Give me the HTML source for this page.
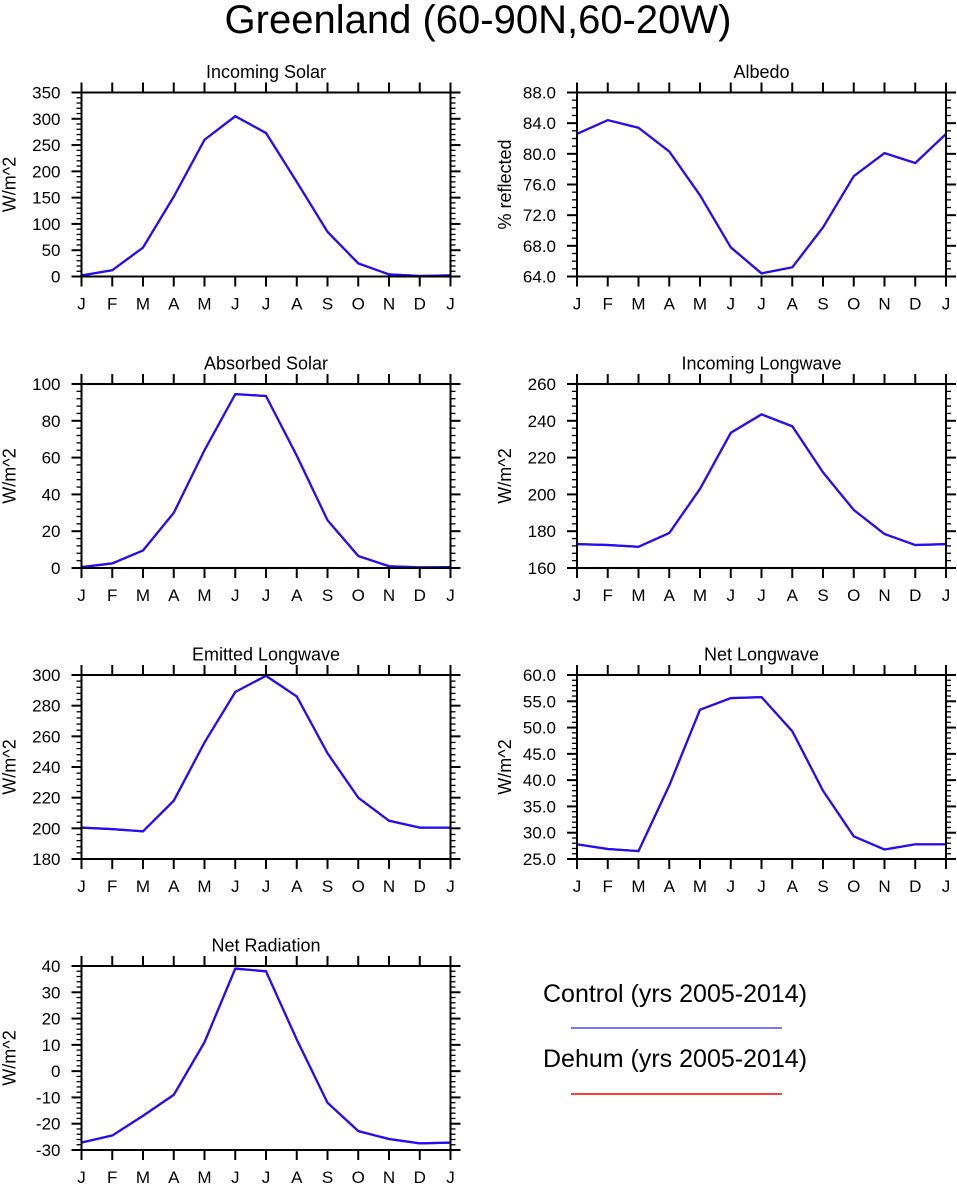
<!DOCTYPE html>
<html><head><meta charset="utf-8"><style>
body{margin:0;background:#fff;}
svg{display:block;font-family:"Liberation Sans",Arial,sans-serif;}
</style></head><body>
<svg id="c" width="957" height="1187" viewBox="0 0 957 1187" xmlns="http://www.w3.org/2000/svg">
<text x="478" y="33" font-size="40" text-anchor="middle">Greenland (60-90N,60-20W)</text>
<g>
<text x="543" y="1002" font-size="25">Control (yrs 2005-2014)</text>
<line x1="571" y1="1028" x2="782" y2="1028" stroke="#4a4aff" stroke-width="1.5"/>
<text x="543" y="1067" font-size="25">Dehum (yrs 2005-2014)</text>
<line x1="571" y1="1094" x2="782" y2="1094" stroke="#ff0000" stroke-width="1.5"/>
</g>
</svg>
<script>
const months=["J","F","M","A","M","J","J","A","S","O","N","D","J"];
const incomingSolar=[2,12,55,152,260,305,273,180,85,25,4,1,2];
const albedo=[82.6,84.4,83.4,80.3,74.6,67.8,64.4,65.2,70.4,77.1,80.1,78.8,82.6];
const absorbedSolar=[0.5,2.5,9.5,30,64,94.5,93.5,61,26,6.5,1,0.3,0.5];
const incomingLW=[173,172.5,171.5,179,203,233.5,243.5,237,212,191.5,178.5,172.5,173];
const emittedLW=[200.5,199.5,198,218,256,289,299.5,286,249,220,205,200.5,200.5];
const netLW=[27.8,26.9,26.5,39,53.4,55.6,55.8,49.3,38,29.3,26.8,27.8,27.8];
const netRad=[-27.2,-24.5,-17,-9,11,39,38,12,-12,-22.8,-25.8,-27.5,-27.2];
const panelTitles=["Incoming Solar","Albedo","Absorbed Solar","Incoming Longwave","Emitted Longwave","Net Longwave","Net Radiation"];
const yLabels=["W/m^2","% reflected","W/m^2","W/m^2","W/m^2","W/m^2","W/m^2"];
const yMin=[0,64,0,160,180,25,-30];
const yMax=[350,88,100,260,300,60,40];
const yStep=[50,4,20,20,20,5,10];
const yMinorDiv=[5,4,5,5,5,5,5];
const yDec=[0,1,0,0,0,1,0];
const series=[incomingSolar,albedo,absorbedSolar,incomingLW,emittedLW,netLW,netRad];
const svg=document.getElementById('c');
const NS='http://www.w3.org/2000/svg';
function mk(tag,attrs,parent){const e=document.createElementNS(NS,tag);for(const k in attrs)e.setAttribute(k,attrs[k]);parent.appendChild(e);return e;}
const lefts=[81.5,577];const tops=[92.5,384,675,966];const W=369,H=184;
for(let p=0;p<7;p++){
 const L=lefts[p%2],T=tops[Math.floor(p/2)];
 const g=mk('g',{},svg);
 
 
 const x=i=>L+i*W/12;
 const y=v=>T+H-(v-yMin[p])/(yMax[p]-yMin[p])*H;
 const t=mk('text',{x:L+W/2,y:T-14.5,'font-size':18,'text-anchor':'middle'},g);t.textContent=panelTitles[p];
 
 
 const yl=mk('text',{x:0,y:0,'font-size':18,'text-anchor':'middle',transform:`translate(${L-66},${T+H/2}) rotate(-90)`},g);yl.textContent=yLabels[p];
 
 
 for(let i=0;i<=12;i++){
  mk('line',{x1:x(i),x2:x(i),y1:T+H,y2:T+H+10,stroke:'#000','stroke-width':2},g);
  mk('line',{x1:x(i),x2:x(i),y1:T,y2:T-10,stroke:'#000','stroke-width':2},g);
  const lb=mk('text',{x:x(i),y:T+H+33,'font-size':17,'text-anchor':'middle'},g);lb.textContent=months[i];
  
  
 }
 const minor=yStep[p]/yMinorDiv[p];
 for(let v=yMin[p];v<=yMax[p]+1e-9;v+=minor){
  const yy=y(v);
  mk('line',{x1:L-5,x2:L,y1:yy,y2:yy,stroke:'#000','stroke-width':1.3},g);
  mk('line',{x1:L+W,x2:L+W+5,y1:yy,y2:yy,stroke:'#000','stroke-width':1.3},g);
 }
 for(let v=yMin[p];v<=yMax[p]+1e-9;v+=yStep[p]){
  const yy=y(v);
  mk('line',{x1:L-10,x2:L,y1:yy,y2:yy,stroke:'#000','stroke-width':2},g);
  mk('line',{x1:L+W,x2:L+W+10,y1:yy,y2:yy,stroke:'#000','stroke-width':2},g);
  const lb=mk('text',{x:L-21,y:yy+6,'font-size':17,'text-anchor':'end'},g);lb.textContent=v.toFixed(yDec[p]);
  
  
 }
 const pts=series[p].map((v,i)=>x(i).toFixed(1)+','+y(v).toFixed(1)).join(' ');
 const r=mk('polyline',{points:pts,fill:'none',stroke:'#ff0000','stroke-width':2.2},g);
 
 
 const b=mk('polyline',{points:pts,fill:'none',stroke:'#1a10ff','stroke-width':2.2},g);
 
 
 const box=mk('rect',{x:L,y:T,width:W,height:H,fill:'none',stroke:'#000','stroke-width':2},g);
 
 
}
</script>
</body></html>
